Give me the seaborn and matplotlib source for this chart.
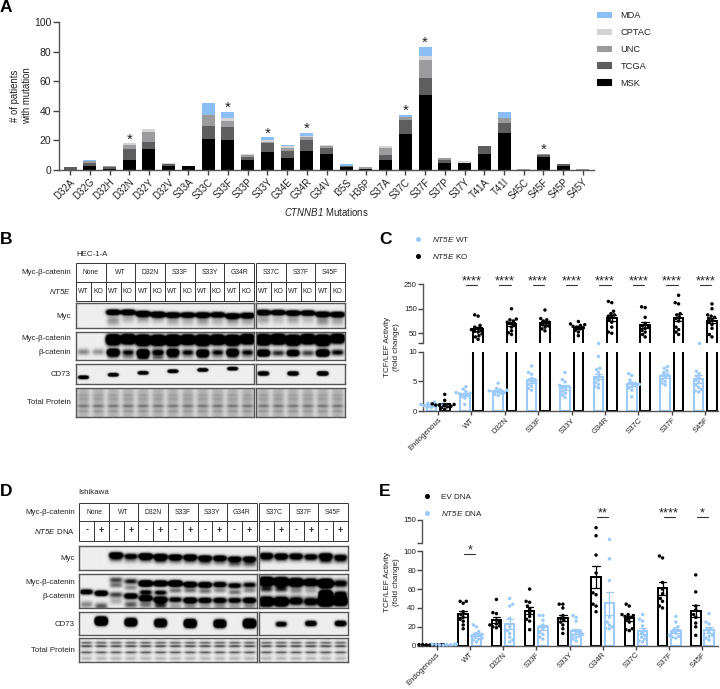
import warnings
import numpy as np
import pandas as pd
import matplotlib
matplotlib.use("Agg")
import matplotlib.pyplot as plt
from matplotlib.lines import Line2D
from matplotlib.patches import Patch
from matplotlib.transforms import blended_transform_factory
import seaborn as sns

warnings.filterwarnings("ignore")

# ---------- Panel A data ----------
mutations = ["D32A","D32G","D32H","D32N","D32Y","D32V","S33A","S33C","S33F","S33P","S33Y","G34E","G34R","G34V",
             "I35S","H36P","S37A","S37C","S37F","S37P","S37Y","T41A","T41I","S45C","S45F","S45P","S45Y"]
msk   = [0,3,1,7,14,3,3,21,20,7,12,8,13,11,2,1,7,24,51,5,5,11,25,0,9,3,0]
tcga  = [2,2,1,7,5,1,0,9,9,2,6,5,7,4,1,0,3,10,11,2,0,5,7,0,1,1,0]
unc   = [0,1,1,3,7,0,0,7,4,1,1,2,2,1,0,1,5,2,12,1,0,0,3,1,1,0,1]
cptac = [0,0,0,1,2,1,0,0,2,1,1,1,1,1,0,0,1,0,3,0,1,0,0,0,0,0,0]
mda   = [0,1,0,0,0,0,0,8,4,0,2,1,2,0,1,0,0,1,6,0,0,0,4,0,0,0,0]
starred = ["D32N","S33F","S33Y","G34R","S37C","S37F","S45F"]

# ---------- Panel C data ----------
c_groups = ["Endogenous","WT","D32N","S33F","S33Y","G34R","S37C","S37F","S45F"]
c_wt = [[.6,.7,.8,.9,1.0,1.0,1.1,1.2,1.3,1.5],
        [1.1,2.2,2.4,2.6,2.8,2.9,3.0,3.1,3.3,3.7,4.1],
        [2.6,2.8,3.0,3.1,3.2,3.3,3.4,3.5,3.6,3.8,4.7],
        [3.5,3.8,4.2,4.5,4.8,5.0,5.2,5.5,6.2,6.5,7.6],
        [2.3,2.7,3.0,3.3,3.6,3.9,4.1,4.3,4.9,5.3,6.5],
        [3.9,4.1,4.5,4.8,5.2,5.6,5.8,6.5,7.0,7.2,9.2],
        [2.4,3.5,3.9,4.1,4.3,4.4,4.5,4.7,5.2,6.0,6.3],
        [4.4,4.7,5.0,5.3,5.7,6.0,6.2,6.5,6.8,7.2,7.5],
        [3.2,3.4,3.6,4.0,4.4,4.8,5.2,5.5,5.9,6.3,6.7,12]]
c_ko = [[.3,.5,.7,.8,.9,1.0,1.0,1.1,1.2,1.8,2.8],
        [25,35,40,48,55,58,62,65,70,75,82,120,125],
        [45,52,60,75,85,90,95,100,105,108,150],
        [60,68,75,80,85,90,95,100,105,110,145],
        [40,55,62,68,72,75,78,82,85,88,98],
        [50,55,75,95,105,115,120,125,130,140,175,180],
        [35,45,55,62,70,75,80,90,115,155,158],
        [45,55,65,75,100,110,115,125,130,170,175,205],
        [35,45,70,85,95,105,110,115,120,125,150,170]]

# ---------- Panel E data ----------
e_groups = ["Endogenous","WT","D32N","S33F","S33Y","G34R","S37C","S37F","S45F"]
e_ev = [[.8,.9,1,1,1.1,1.1,1.2,1.2],
        [18,22,26,28,30,33,36,45,47,47],
        [19,20,21,22,23,25,27,34,35,49],
        [17,26,28,31,35,39,42,46,47,60],
        [13,18,22,25,27,29,32,40,44,44],
        [36,42,44,54,56,77,96,116,133],
        [16,17,18,25,28,30,31,32,33,33,42,44],
        [40,42,47,50,55,60,67,93,95],
        [11,20,24,30,33,38,42,57,75]]
e_nt = [[.6,.8,1,1,1.2,1.4,1.5,1.8],
        [4,6,7,8,9,10,11,12,13,15,20,22],
        [4,6,9,13,16,20,29,42,44,50],
        [7,9,12,14,18,20,22,27,32,32],
        [5,7,9,10,11,12,13,14,16,26,30,32],
        [18,20,22,18,25,30,69,92,110],
        [4,5,7,9,11,13,16,21,26,28,33],
        [8,9,10,11,13,15,16,18,20,25,31],
        [6,8,10,11,14,17,18,23,25,34]]

# ---------- Blot tables ----------
groups_b1 = ["None","WT","D32N","S33F","S33Y","G34R"]
groups_b2 = ["S37C","S37F","S45F"]
groups_d1 = ["None","WT","D32N","S33F","S33Y","G34R"]
groups_d2 = ["S37C","S37F","S45F"]
lanes_b = ["WT","KO"]
lanes_d = ["-","+"]

# band tables: (intensity per lane, height per lane, sigma y, sigma x)
B1 = {
 "myc": [([0,0,2.2,2.2,2.6,2.6,2.2,2,2.2,2,2.2,2.2],[.4,.4,.37,.37,.43,.46,.48,.48,.48,.47,.52,.5],.07,.46),
         ([0,0,.35,.25,.35,.3,.3,.25,.35,.25,.35,.3],[.7,.7,.7,.6,.6,.6,.7,.7,.7,.7,.7,.7],.14,.42)],
 "cat": [([0,0,3.5,3,4,3.5,4,3,4,3,3.5,3],[.3,.3,.3,.28,.32,.32,.32,.3,.32,.3,.32,.28],.11,.46),
         ([.4,.35,3,1,3,1.3,2.5,1,2.6,1,2.6,1],[.72,.72,.74,.74,.76,.74,.74,.74,.76,.74,.74,.74],.075,.4),
         ([0,0,.3,.3,.8,.5,.5,.2,.4,.2,.4,.2],[.9,.9,.9,.9,.92,.92,.9,.9,.9,.9,.9,.9],.06,.4)],
 "cd73": [([3,0,3,0,3,0,3,0,3,0,3,0],[.68,.5,.56,.5,.47,.5,.39,.5,.33,.5,.27,.5],.05,.32)],
}
B2 = {
 "myc": [([2.2,2,2,2,2.2,2.2],[.38,.38,.4,.4,.45,.46],.07,.46),
         ([.3,.2,.3,.2,.4,.3],[.65,.65,.65,.65,.7,.7],.14,.42)],
 "cat": [([4,3.5,3.5,3,4,2.5],[.3,.28,.32,.28,.32,.26],.11,.46),
         ([2.6,.8,2,.7,3,1],[.76,.76,.76,.76,.76,.74],.075,.42)],
 "cd73": [([3,0,3,0,3.5,0],[.5,.5,.5,.5,.5,.5],.06,.34)],
}
D1 = {
 "myc": [([0,0,2.2,1.2,2.4,2,1.8,1.8,1.8,1.6,1.6,1.6],[.4,.42,.38,.42,.42,.44,.46,.46,.5,.5,.54,.54],.075,.44),
         ([0,0,.6,.4,.6,.8,.5,.6,.6,.5,.6,.6],[.5,.5,.52,.56,.55,.58,.6,.6,.65,.65,.72,.72],.1,.44)],
 "cat": [([0,0,.7,.9,3,2.5,3,2,2,1.5,1.3,1.1],[.3,.3,.2,.24,.3,.3,.3,.33,.34,.33,.36,.34],.055,.44),
         ([1.6,2.2,.5,.4,1.1,1.1,.5,.5,.5,.4,.5,.4],[.54,.58,.35,.42,.55,.56,.5,.5,.52,.5,.55,.5],.05,.42),
         ([0,0,.7,1.8,2,2.2,1.2,2,1.6,1.5,1.3,1.7],[.87,.87,.62,.66,.72,.76,.76,.78,.78,.78,.78,.78],.055,.44),
         ([.4,.6,.25,.6,.5,.8,.3,.4,.3,.4,.3,.4],[.9,.95,.8,.9,.9,.92,.95,.95,.95,.95,.95,.95],.07,.42)],
 "cd73": [([0,6,0,4,0,4,0,5,0,4,0,7],[.5,.42,.5,.47,.5,.5,.5,.52,.5,.53,.5,.52],.095,.38)],
}
D2 = {
 "myc": [([1.7,1.6,1.6,1.2,2,1.2],[.4,.42,.42,.44,.42,.46],.08,.44),
         ([.5,.5,.4,.4,.8,.6],[.55,.55,.55,.55,.6,.6],.09,.44)],
 "cat": [([3.5,3.5,3,2,4,1.2],[.24,.25,.27,.27,.3,.3],.075,.46),
         ([.8,.8,.4,.3,4,1.2],[.46,.46,.5,.5,.6,.6],.06,.42),
         ([3,2.8,1.4,1.4,5,3],[.82,.82,.8,.82,.8,.8],.085,.46)],
 "cd73": [([0,1.6,0,2.2,0,2.5],[.5,.55,.5,.52,.5,.52],.07,.36)],
}
tp_b_y = [.25,.38,.62,.8]
tp_b_i = [.06,.06,.24,.09]
tp_d_y = [.2,.34,.6,.85]
tp_d_i = [.45,.6,.5,.15]

# ---------- Styling ----------
sns.set_theme(style="ticks", context="paper")
plt.rcParams.update({
    "font.family": ["Liberation Sans", "DejaVu Sans"],
    "mathtext.fontset": "custom",
    "mathtext.cal": "Liberation Sans:italic",
    "mathtext.rm": "Liberation Sans",
    "text.color": "#222222",
    "axes.edgecolor": "#555555",
    "axes.labelcolor": "#222222",
    "xtick.color": "#444444",
    "ytick.color": "#444444",
    "xtick.labelcolor": "#222222",
    "ytick.labelcolor": "#222222",
    "axes.linewidth": 1.0,
    "xtick.major.width": 1.0,
    "ytick.major.width": 1.0,
})
W, H = 720, 689
BLUE = "#9CCBFB"
fig = plt.figure(figsize=(W/100, H/100), dpi=100, facecolor="white")


def px_axes(x0, y0, x1, y1):
    return fig.add_axes([x0/W, 1-y1/H, (x1-x0)/W, (y1-y0)/H])


# ---------- Panel A ----------
ax = px_axes(59, 22, 594, 170)
stack = [("MSK", msk, "#000000"), ("TCGA", tcga, "#5E5E5E"), ("UNC", unc, "#9C9C9E"),
         ("CPTAC", cptac, "#D4D4D4"), ("MDA", mda, "#8CBEF6")]
cum = np.cumsum([s[1] for s in stack], axis=0)
for level in range(len(stack)-1, -1, -1):
    sns.barplot(x=mutations, y=cum[level], color=stack[level][2], saturation=1, width=.66,
                errorbar=None, linewidth=0, ax=ax)
ax.set_xlim(-.56, 26.56)
ax.set_ylim(0, 100)
ax.set_yticks(range(0, 101, 20))
ax.tick_params(axis="y", labelsize=7.5, length=4, pad=1.5)
ax.tick_params(axis="x", labelsize=6.9, length=3.5, pad=1.5)
for t in ax.get_xticklabels():
    t.set_rotation(45); t.set_ha("right"); t.set_rotation_mode("anchor")
sns.despine(ax=ax)
ax.set_ylabel("")
ax.set_xlabel(r"$\mathcal{CTNNB1}$ Mutations", fontsize=6.9, labelpad=3)
for m in starred:
    i = mutations.index(m)
    ax.annotate("*", (i, cum[-1][i]), xytext=(0, 0), textcoords="offset points",
                ha="center", va="baseline", fontsize=11, annotation_clip=False)
fig.legend(handles=[Patch(color=c, label=n) for n, _, c in stack[::-1]], loc="upper left",
           bbox_to_anchor=(595/W, 1-9/H), frameon=False, fontsize=6.7, handlelength=1.55,
           handleheight=.55, handletextpad=1.0, labelspacing=.85, borderpad=.2, borderaxespad=0)


# ---------- Broken-axis bar panels ----------
def long_table(groups, a, b, na, nb):
    rows = []
    for g, va, vb in zip(groups, a, b):
        rows += [(g, na, v) for v in va] + [(g, nb, v) for v in vb]
    return pd.DataFrame(rows, columns=["group", "series", "value"])


def broken(df, groups, hues, colors, up, low, uplim, lowlim, upticks, lowticks, xlim):
    pal = dict(zip(hues, colors))
    axes = []
    for rect, lim, ticks, side in ((up, uplim, upticks, "up"), (low, lowlim, lowticks, "low")):
        a = px_axes(*rect)
        common = dict(x="group", y="value", hue="series", order=groups, hue_order=hues,
                      palette=pal, legend=False, ax=a)
        sns.barplot(data=df, fill=False, linewidth=1.45, width=.8, gap=.28, errorbar="se",
                    capsize=.45, err_kws={"linewidth": .9}, **common)
        mask = df["value"] > lim[0] if side == "up" else df["value"] <= lim[1]
        sns.swarmplot(data=df[mask], dodge=True, size=2.5, warn_thresh=1, clip_on=False, zorder=4, **common)
        a.set_xlim(*xlim)
        a.set_ylim(*lim)
        a.set_yticks(ticks[0], ticks[1])
        a.set_xlabel("")
        a.set_ylabel("")
        a.tick_params(axis="y", labelsize=5.6, length=3.5, pad=1)
        sns.despine(ax=a)
        if side == "up":
            a.spines["bottom"].set_visible(False)
            a.tick_params(axis="x", bottom=False, labelbottom=False)
        else:
            a.tick_params(axis="x", labelsize=5.6, length=3, pad=1)
            for t in a.get_xticklabels():
                t.set_rotation(45); t.set_ha("right"); t.set_rotation_mode("anchor")
        axes.append(a)
    return axes


def sig(a, i, text, ypx, half=.17):
    tr = blended_transform_factory(a.transData, fig.transFigure)
    a.plot([i-half, i+half], [1-ypx/H]*2, transform=tr, color="#333333", lw=.8, clip_on=False)
    a.text(i, 1-(ypx-4)/H, text, transform=tr, ha="center", va="center", fontsize=9.3, clip_on=False)


df_c = long_table(c_groups, c_wt, c_ko, "WT", "KO")
c_up, c_low = broken(df_c, c_groups, ["WT", "KO"], [BLUE, "#000000"],
                     (423, 284.3, 718, 343.3), (423, 351.7, 718, 411), (9, 250), (0, 10),
                     ([9, 50, 150, 250], ["", "50", "150", "250"]), ([0, 5, 10], ["0", "5", "10"]),
                     (-.45, 8.38))
for i in range(1, 9):
    sig(c_up, i, "****", 285.3)

df_e = long_table(e_groups, e_ev, e_nt, "EV", "NT5E")
e_up, e_low = broken(df_e, e_groups, ["EV", "NT5E"], ["#000000", BLUE],
                     (422, 519.7, 718, 543.3), (422, 551.3, 718, 645.7), (100, 150), (0, 100),
                     ([100, 150], ["", "150"]), (range(0, 101, 20), [str(v) for v in range(0, 101, 20)]),
                     (-.44, 8.47))
sig(e_low, 1, "*", 554)
sig(e_up, 5, "**", 517)
sig(e_up, 7, "****", 517)
sig(e_up, 8, "*", 517)


def dot_legend(x, y, items):
    handles = [Line2D([], [], ls="", marker="o", ms=2.6, color=c, label=l) for l, c in items]
    fig.legend(handles=handles, loc="upper left", bbox_to_anchor=(x/W, 1-y/H), frameon=False, fontsize=5.9,
               handlelength=1, handletextpad=1.25, labelspacing=.92, borderpad=0, borderaxespad=0)


dot_legend(414, 235, [(r"$\mathcal{NT5E}$ WT", BLUE), (r"$\mathcal{NT5E}$ KO", "#000000")])
dot_legend(423, 493.5, [("EV DNA", "#000000"), (r"$\mathcal{NT5E}$ DNA", BLUE)])


# ---------- Blots ----------
def blot(rect, n, bands, bg=.93):
    x0, y0, x1, y1 = rect
    w, h = int((x1-x0)*4), int((y1-y0)*4)
    xs = (np.arange(w)+.5)/w*n
    ys = (np.arange(h)+.5)/h
    img = np.full((h, w), float(bg))
    for vals, heights, sy, sx in bands:
        for i, (v, yy) in enumerate(zip(vals, heights)):
            if v:
                gx = np.exp(-((xs-i-.5)/sx)**4)
                gy = np.exp(-.5*((ys-yy)/sy)**2)
                img -= v*np.outer(gy, gx)
    a = px_axes(*rect)
    a.imshow(np.clip(img, 0, 1), cmap="gray", vmin=0, vmax=1, aspect="auto", interpolation="bilinear")
    a.set_xticks([]); a.set_yticks([])
    for s in a.spines.values():
        s.set_color("#555555"); s.set_linewidth(1)
    return a


def protein_bands(n, ys_, is_, smear, sy=.032):
    out = [([smear]*n, [.5]*n, .7, .38)]
    for yy, ii in zip(ys_, is_):
        out.append(([ii]*n, [yy]*n, sy, .42))
    return out


over = fig.add_axes([0, 0, 1, 1], zorder=20)
over.set_xlim(0, W); over.set_ylim(H, 0); over.axis("off"); over.patch.set_alpha(0)


def table(x0, x1, y0, y1, y2, groups, lanes):
    gw = (x1-x0)/len(groups)
    kw = dict(color="#333333", lw=.7, solid_capstyle="butt")
    for yy in (y0, y1, y2):
        over.plot([x0, x1], [yy, yy], **kw)
    for k in range(len(groups)+1):
        over.plot([x0+k*gw]*2, [y0, y2], **kw)
    for k, g in enumerate(groups):
        xc = x0+(k+.5)*gw
        over.text(xc, (y0+y1)/2, g, ha="center", va="center", fontsize=4.9)
        over.plot([xc, xc], [y1, y2], **kw)
        big = lanes[0] == "-"
        for j, l in enumerate(lanes):
            over.text(x0+(k+.25+.5*j)*gw, (y1+y2)/2-(1 if big else 0), l, ha="center", va="center",
                      fontsize=6.5 if big else 4.9, fontweight="bold" if big else "normal")


def panel_blot(x0, x1, x2, x3, ytab, rows, d1, d2, g1, g2, lanes, bg_tp, tp_y, tp_i, smear):
    table(x0, x1, *ytab, g1, lanes)
    table(x2, x3, *ytab, g2, lanes)
    for key, (y0, y1) in rows.items():
        for (a0, a1, d, n) in ((x0, x1, d1, 12), (x2, x3, d2, 6)):
            if key == "tp":
                blot((a0, y0, a1, y1), n, protein_bands(n, tp_y, tp_i, smear), bg=bg_tp)
            else:
                blot((a0, y0, a1, y1), n, d[key])


panel_blot(76, 254, 256, 345, (262.7, 281.7, 300.7),
           {"myc": (303.3, 327.7), "cat": (331.7, 360), "cd73": (363.7, 384.3), "tp": (388, 416.7)},
           B1, B2, groups_b1, groups_b2, lanes_b, .84, tp_b_y, tp_b_i, .17)
panel_blot(79.3, 256.7, 259.3, 348, (502.7, 521.3, 540.7),
           {"myc": (546.3, 570.3), "cat": (574, 608.3), "cd73": (611.7, 635.3), "tp": (638.3, 662.3)},
           D1, D2, groups_d1, groups_d2, lanes_d, .93, tp_d_y, tp_d_i, .1)

FS = 5.7
for x, y, s in [(71, 272.5, "Myc-β-catenin"), (71, 291.5, r"$\mathcal{NT5E}$"), (71, 316, "Myc"),
                (71, 338.5, "Myc-β-catenin"), (71, 352.5, "β-catenin"), (71, 374, "CD73"), (71, 402, "Total Protein"),
                (75, 512, "Myc-β-catenin"), (75, 532, r"$\mathcal{NT5E}$ DNA"), (75, 558, "Myc"),
                (75, 582, "Myc-β-catenin"), (75, 597, "β-catenin"), (75, 624, "CD73"), (75, 650, "Total Protein")]:
    over.text(x, y, s, ha="right", va="center", fontsize=FS)
over.text(76.5, 254, "HEC-1-A", ha="left", va="center", fontsize=FS)
over.text(78, 493, "Ishikawa", ha="left", va="center", fontsize=FS)
for s, x, y in [("A", 0, 7), ("B", 0, 240), ("C", 379, 240), ("D", 0, 492), ("E", 379, 492)]:
    over.text(x, y, s, ha="left", va="center", fontsize=12.5, fontweight="bold", color="black")
over.text(21, 96, "# of patients\nwith mutation", rotation=90, ha="center", va="center", fontsize=6.9, linespacing=1.25)
over.text(392, 347, "TCF/LEF Activity\n(fold change)", rotation=90, ha="center", va="center", fontsize=5.9, linespacing=1.25)
over.text(392, 582, "TCF/LEF Activity\n(fold change)", rotation=90, ha="center", va="center", fontsize=5.9, linespacing=1.25)

fig.savefig("out.png", dpi=100)
